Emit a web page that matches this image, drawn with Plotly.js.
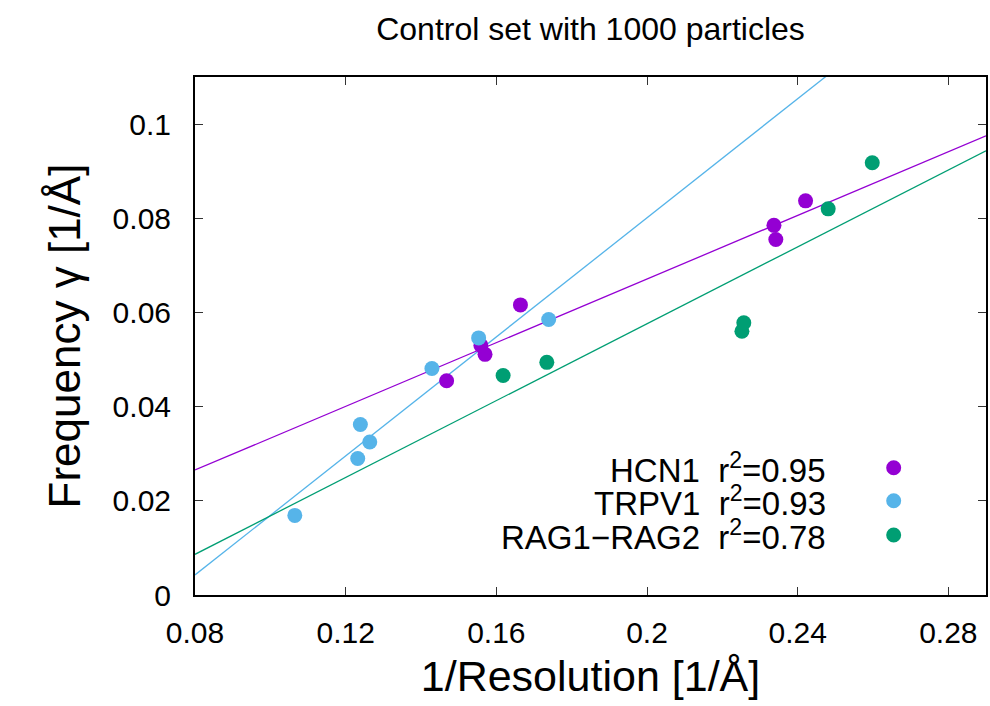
<!DOCTYPE html>
<html>
<head>
<meta charset="utf-8">
<script src="https://cdn.plot.ly/plotly-3.0.1.min.js"></script>
<style>html,body{margin:0;padding:0;background:#fff;}#chart{width:990px;height:706px;}</style>
</head>
<body>
<div id="chart"></div>
<script>
// ---- data ----
const seriesNames = ["HCN1", "TRPV1", "RAG1\u2212RAG2"];
const r2Values = ["0.95", "0.93", "0.78"];
const seriesColors = ["#9400D3", "#56B4E9", "#009E73"];

const hcn1X = [0.1664, 0.2337, 0.2342, 0.2421, 0.1468, 0.1570, 0.1559];
const hcn1Y = [0.0616, 0.0785, 0.0755, 0.0837, 0.0455, 0.0511, 0.0530];

const trpv1X = [0.1065, 0.1232, 0.1264, 0.1239, 0.1429, 0.1553, 0.1739];
const trpv1Y = [0.0169, 0.0290, 0.0325, 0.0362, 0.0481, 0.0546, 0.0585];

const ragX = [0.1618, 0.1734, 0.2252, 0.2257, 0.2481, 0.2598];
const ragY = [0.0466, 0.0494, 0.0560, 0.0578, 0.0820, 0.0918];

// linear fits (slope, intercept) as drawn in the reference
const fitSlopes = [0.338, 0.632, 0.408];
const fitIntercepts = [-0.0005, -0.0463, -0.024];

const xRange = [0.08, 0.29];
const yRange = [0, 0.11];
const xTicks = [0.08, 0.12, 0.16, 0.2, 0.24, 0.28];
const yTicks = [0, 0.02, 0.04, 0.06, 0.08, 0.1];

// ---- traces ----
const FONT = "Liberation Sans, Arial, sans-serif";
const xs = [hcn1X, trpv1X, ragX];
const ys = [hcn1Y, trpv1Y, ragY];
const traces = [];
for (let i = 0; i < 3; i++) {
  traces.push({
    type: "scatter", mode: "lines",
    x: xRange,
    y: xRange.map(v => fitSlopes[i] * v + fitIntercepts[i]),
    line: {color: seriesColors[i], width: 1.3},
    hoverinfo: "skip", showlegend: false
  });
}
for (let i = 0; i < 3; i++) {
  traces.push({
    type: "scatter", mode: "markers",
    x: xs[i], y: ys[i], name: seriesNames[i],
    marker: {color: seriesColors[i], size: 15, line: {width: 0}},
    cliponaxis: true, showlegend: false
  });
}

// ---- custom gnuplot-style key (text right, symbol at right) ----
const keyTextX = 0.8003, keySymX = 0.8833;
const keyY = [0.2457, 0.1820, 0.1158];
const annotations = [];
const shapes = [];
for (let i = 0; i < 3; i++) {
  annotations.push({
    xref: "paper", yref: "paper", x: keyTextX, y: keyY[i],
    xanchor: "right", yanchor: "middle", showarrow: false,
    text: seriesNames[i] + "  r<sup>2</sup>=" + r2Values[i],
    font: {family: FONT, size: 33, color: "#000"}
  });
  shapes.push({
    type: "circle", xref: "paper", yref: "paper",
    xsizemode: "pixel", ysizemode: "pixel",
    xanchor: keySymX, yanchor: keyY[i],
    x0: -7.5, x1: 7.5, y0: -7.5, y1: 7.5,
    fillcolor: seriesColors[i], line: {width: 0}
  });
}

const axisCommon = {
  showgrid: false, zeroline: false,
  showline: true, linecolor: "#000", linewidth: 2, mirror: "ticks",
  ticks: "inside", ticklen: 8, tickwidth: 1, tickcolor: "#333",
  tickfont: {family: FONT, size: 30, color: "#000"},
  fixedrange: true
};

const layout = {
  width: 990, height: 706,
  paper_bgcolor: "#fff", plot_bgcolor: "#fff",
  margin: {l: 195, r: 4, t: 77, b: 111},
  showlegend: false,
  title: {
    text: "Control set with 1000 particles",
    font: {family: FONT, size: 32, color: "#000"},
    xref: "paper", x: 0.5, xanchor: "center",
    yref: "container", y: 1 - 29 / 706, yanchor: "middle"
  },
  xaxis: Object.assign({}, axisCommon, {
    range: xRange, tickmode: "array", tickvals: xTicks,
    ticktext: xTicks.map(String),
    ticklabelstandoff: 10,
    title: {text: "1/Resolution [1/\u00C5]", font: {family: FONT, size: 43, color: "#000"}, standoff: 13}
  }),
  yaxis: Object.assign({}, axisCommon, {
    range: yRange, tickmode: "array", tickvals: yTicks,
    ticktext: yTicks.map(String),
    ticklabelstandoff: 16,
    title: {text: "Frequency \u03B3 [1/\u00C5]", font: {family: FONT, size: 44, color: "#000"}, standoff: 18}
  }),
  annotations: annotations,
  shapes: shapes
};

Plotly.newPlot("chart", traces, layout, {displayModeBar: false, staticPlot: true});
</script>
</body>
</html>
